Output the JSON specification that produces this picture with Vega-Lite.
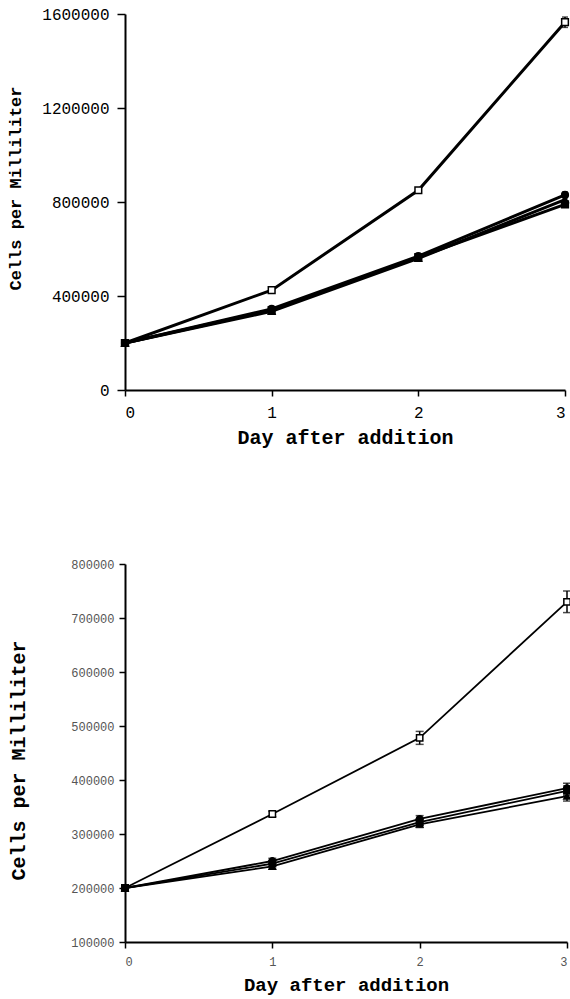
{
  "$schema": "https://vega.github.io/schema/vega-lite/v6.json",
  "background": "white",
  "padding": {"left": 6, "top": 6, "right": 2, "bottom": 2},
  "config": {
    "view": {"stroke": null},
    "font": "Liberation Mono",
    "axis": {
      "grid": false,
      "domainColor": "black",
      "domainWidth": 2,
      "tickColor": "black",
      "tickWidth": 1.5,
      "labelColor": "black",
      "labelFont": "Liberation Mono",
      "titleFont": "Liberation Mono",
      "titleFontWeight": "bold",
      "titleColor": "black",
      "format": "d"
    },
    "concat": {"spacing": 111}
  },
  "datasets": {
    "top": [
      {"series": "A", "day": 0, "cells": 200000, "err": 4000},
      {"series": "A", "day": 1, "cells": 425000, "err": 6000},
      {"series": "A", "day": 2, "cells": 850000, "err": 8000},
      {"series": "A", "day": 3, "cells": 1565000, "err": 22000},
      {"series": "B", "day": 0, "cells": 200000, "err": 4000},
      {"series": "B", "day": 1, "cells": 345000, "err": 6000},
      {"series": "B", "day": 2, "cells": 570000, "err": 8000},
      {"series": "B", "day": 3, "cells": 830000, "err": 12000},
      {"series": "C", "day": 0, "cells": 200000, "err": 4000},
      {"series": "C", "day": 1, "cells": 335000, "err": 6000},
      {"series": "C", "day": 2, "cells": 560000, "err": 8000},
      {"series": "C", "day": 3, "cells": 810000, "err": 12000},
      {"series": "D", "day": 0, "cells": 200000, "err": 4000},
      {"series": "D", "day": 1, "cells": 340000, "err": 6000},
      {"series": "D", "day": 2, "cells": 565000, "err": 8000},
      {"series": "D", "day": 3, "cells": 790000, "err": 12000}
    ],
    "bottom": [
      {"series": "A", "day": 0, "cells": 200000, "err": 3000},
      {"series": "A", "day": 1, "cells": 337000, "err": 5000},
      {"series": "A", "day": 2, "cells": 478000, "err": 12000},
      {"series": "A", "day": 3, "cells": 730000, "err": 20000},
      {"series": "B", "day": 0, "cells": 200000, "err": 3000},
      {"series": "B", "day": 1, "cells": 250000, "err": 5000},
      {"series": "B", "day": 2, "cells": 328000, "err": 6000},
      {"series": "B", "day": 3, "cells": 385000, "err": 9000},
      {"series": "C", "day": 0, "cells": 200000, "err": 3000},
      {"series": "C", "day": 1, "cells": 240000, "err": 5000},
      {"series": "C", "day": 2, "cells": 318000, "err": 6000},
      {"series": "C", "day": 3, "cells": 370000, "err": 9000},
      {"series": "D", "day": 0, "cells": 200000, "err": 3000},
      {"series": "D", "day": 1, "cells": 245000, "err": 5000},
      {"series": "D", "day": 2, "cells": 322000, "err": 6000},
      {"series": "D", "day": 3, "cells": 380000, "err": 9000}
    ]
  },
  "resolve": {"scale": {"x": "independent", "y": "independent"}},
  "vconcat": [
    {
      "width": 440,
      "height": 376,
      "data": {"name": "top"},
      "encoding": {
        "x": {"field": "day", "type": "quantitative", "scale": {"domain": [0, 3], "nice": false},
          "axis": {"values": [0, 1, 2, 3], "title": "Day after addition", "labelFontSize": 16, "tickSize": 6, "labelPadding": 8, "titleFontSize": 20, "titlePadding": 7}},
        "y": {"field": "cells", "type": "quantitative", "scale": {"domain": [0, 1600000], "nice": false},
          "axis": {"values": [0, 400000, 800000, 1200000, 1600000], "title": "Cells per Milliliter", "labelFontSize": 16, "tickSize": 8, "labelPadding": 8, "titleFontSize": 17, "titlePadding": 17, "titleY": 174}}
      },
      "layer": [
        {"mark": {"type": "line", "color": "black", "strokeWidth": 3}, "encoding": {"detail": {"field": "series"}}},
        {"mark": {"type": "errorbar", "color": "black", "ticks": {"size": 6, "color": "black"}, "thickness": 1.5},
          "encoding": {"y": {"field": "cells", "type": "quantitative"}, "yError": {"field": "err"}}},
        {"mark": {"type": "point", "filled": true, "size": 45, "opacity": 1, "strokeWidth": 1.5},
          "encoding": {
            "shape": {"field": "series", "type": "nominal", "legend": null, "scale": {"domain": ["A", "B", "C", "D"], "range": ["square", "circle", "triangle-up", "square"]}},
            "fill": {"field": "series", "type": "nominal", "legend": null, "scale": {"domain": ["A", "B", "C", "D"], "range": ["white", "black", "black", "black"]}},
            "stroke": {"value": "black"}
          }}
      ]
    },
    {
      "width": 442,
      "height": 378,
      "data": {"name": "bottom"},
      "encoding": {
        "x": {"field": "day", "type": "quantitative", "scale": {"domain": [0, 3], "nice": false},
          "axis": {"values": [0, 1, 2, 3], "title": "Day after addition", "labelFontSize": 12, "labelColor": "#555", "tickSize": 6, "labelPadding": 8, "titleFontSize": 19, "titlePadding": 8}},
        "y": {"field": "cells", "type": "quantitative", "scale": {"domain": [100000, 800000], "nice": false},
          "axis": {"values": [100000, 200000, 300000, 400000, 500000, 600000, 700000, 800000], "title": "Cells per Milliliter", "labelFontSize": 12, "labelColor": "#555", "tickSize": 6, "labelPadding": 5, "titleFontSize": 20, "titlePadding": 42, "titleY": 196}}
      },
      "layer": [
        {"mark": {"type": "line", "color": "black", "strokeWidth": 1.8}, "encoding": {"detail": {"field": "series"}}},
        {"mark": {"type": "errorbar", "color": "black", "ticks": {"size": 8, "color": "black"}, "thickness": 1.5},
          "encoding": {"y": {"field": "cells", "type": "quantitative"}, "yError": {"field": "err"}}},
        {"mark": {"type": "point", "filled": true, "size": 40, "opacity": 1, "strokeWidth": 1.5},
          "encoding": {
            "shape": {"field": "series", "type": "nominal", "legend": null, "scale": {"domain": ["A", "B", "C", "D"], "range": ["square", "circle", "triangle-up", "square"]}},
            "fill": {"field": "series", "type": "nominal", "legend": null, "scale": {"domain": ["A", "B", "C", "D"], "range": ["white", "black", "black", "black"]}},
            "stroke": {"value": "black"}
          }}
      ]
    }
  ]
}
